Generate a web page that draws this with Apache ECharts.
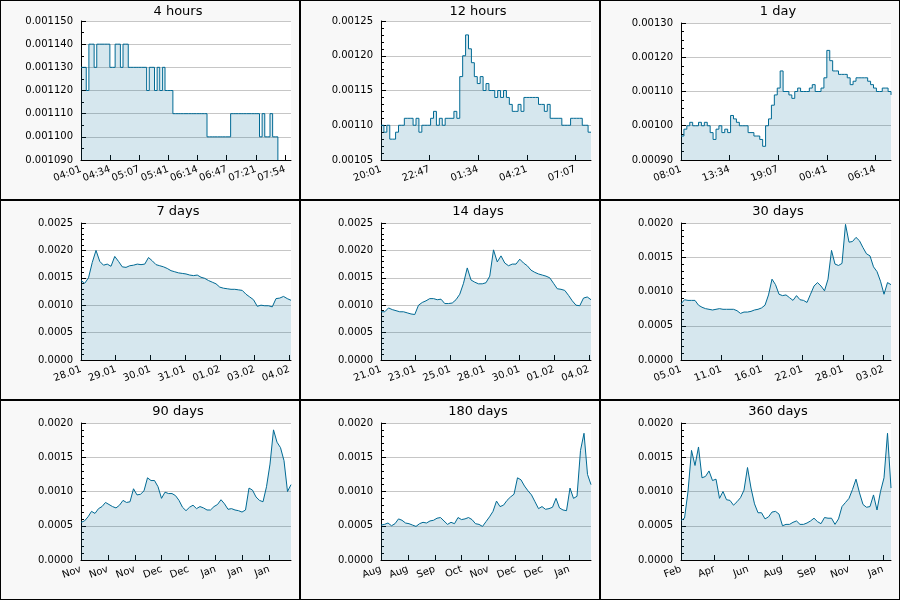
<!DOCTYPE html>
<html>
<head>
<meta charset="utf-8">
<script src="https://cdn.jsdelivr.net/npm/echarts@6/dist/echarts.min.js"></script>
<style>
  body { margin: 0; background: #f8f8f8; }
  #wrap { position: relative; width: 900px; height: 600px; }
  .panel { position: absolute; width: 300px; height: 200px; box-sizing: border-box; border: 1px solid #000; background: #f8f8f8; }
</style>
</head>
<body>
<div id="wrap"></div>
<script>
// values, evenly spaced samples per panel
var hours4 = [0.00113,0.00113,0.00112,0.00114,0.00114,0.00113,0.00114,0.00114,0.00114,0.00114,
  0.00114,0.00113,0.00113,0.00114,0.00114,0.00113,0.00114,0.00114,0.00113,0.00113,
  0.00113,0.00113,0.00113,0.00113,0.00113,0.00112,0.00113,0.00113,0.00112,0.00113,
  0.00112,0.00113,0.00112,0.00112,0.00112,0.00111,0.00111,0.00111,0.00111,0.00111,
  0.00111,0.00111,0.00111,0.00111,0.00111,0.00111,0.00111,0.00111,0.00110,0.00110,
  0.00110,0.00110,0.00110,0.00110,0.00110,0.00110,0.00110,0.00111,0.00111,0.00111,
  0.00111,0.00111,0.00111,0.00111,0.00111,0.00111,0.00111,0.00111,0.00110,0.00111,
  0.00110,0.00110,0.00111,0.00110,0.00110,0.00109];
var hours12 = [0.00110,0.00109,0.00110,0.00108,0.00108,0.00109,0.00110,0.00110,0.00111,0.00111,
  0.00111,0.00110,0.00111,0.00109,0.00110,0.00110,0.00110,0.00111,0.00112,0.00110,
  0.00111,0.00110,0.00111,0.00111,0.00111,0.00112,0.00111,0.00117,0.00120,0.00123,
  0.00121,0.00119,0.00117,0.00116,0.00117,0.00115,0.00116,0.00115,0.00115,0.00114,
  0.00115,0.00114,0.00115,0.00114,0.00113,0.00112,0.00112,0.00113,0.00112,0.00114,
  0.00114,0.00114,0.00114,0.00114,0.00113,0.00113,0.00112,0.00113,0.00111,0.00111,
  0.00111,0.00111,0.00110,0.00110,0.00110,0.00111,0.00111,0.00111,0.00111,0.00110,
  0.00110,0.00109,0.00109];
var day1 = [0.00097,0.00099,0.00100,0.00101,0.00100,0.00100,0.00101,0.00100,0.00101,0.00100,
  0.00098,0.00096,0.00099,0.00100,0.00098,0.00099,0.00098,0.00103,0.00102,0.00101,
  0.00100,0.00100,0.00100,0.00098,0.00098,0.00097,0.00097,0.00096,0.00094,0.00100,
  0.00102,0.00106,0.00109,0.00111,0.00116,0.00110,0.00110,0.00109,0.00108,0.00110,
  0.00111,0.00110,0.00110,0.00110,0.00111,0.00112,0.00110,0.00110,0.00111,0.00114,
  0.00122,0.00119,0.00116,0.00116,0.00115,0.00115,0.00115,0.00114,0.00112,0.00113,
  0.00114,0.00114,0.00114,0.00114,0.00113,0.00112,0.00111,0.00110,0.00110,0.00111,
  0.00111,0.00110,0.00109];
var days7 = [0.00145,0.00140,0.00150,0.00178,0.00200,0.00180,0.00173,0.00175,0.00171,0.00189,
  0.00180,0.00170,0.00169,0.00172,0.00173,0.00175,0.00174,0.00175,0.00187,0.00181,
  0.00174,0.00172,0.00170,0.00167,0.00163,0.00161,0.00159,0.00158,0.00157,0.00155,
  0.00154,0.00155,0.00151,0.00149,0.00145,0.00142,0.00139,0.00133,0.00131,0.00130,
  0.00129,0.00129,0.00128,0.00127,0.00120,0.00115,0.00110,0.00098,0.00100,0.00099,
  0.00099,0.00097,0.00112,0.00113,0.00116,0.00112,0.00109];
var days14 = [0.00088,0.00088,0.00095,0.00092,0.00090,0.00088,0.00088,0.00086,0.00084,0.00083,
  0.00100,0.00105,0.00108,0.00112,0.00112,0.00110,0.00111,0.00103,0.00103,0.00104,
  0.00110,0.00120,0.00140,0.00168,0.00146,0.00142,0.00139,0.00139,0.00141,0.00153,
  0.00201,0.00179,0.00190,0.00177,0.00172,0.00175,0.00175,0.00184,0.00177,0.00172,
  0.00164,0.00160,0.00157,0.00155,0.00153,0.00150,0.00140,0.00130,0.00129,0.00127,
  0.00118,0.00108,0.00100,0.00099,0.00113,0.00115,0.00110];
var days30 = [0.00082,0.00088,0.00087,0.00087,0.00087,0.00080,0.00077,0.00075,0.00074,0.00073,
  0.00074,0.00075,0.00074,0.00074,0.00074,0.00074,0.00072,0.00068,0.00070,0.00070,
  0.00071,0.00073,0.00074,0.00076,0.00080,0.00095,0.00118,0.00110,0.00096,0.00094,
  0.00095,0.00091,0.00087,0.00094,0.00088,0.00087,0.00084,0.00096,0.00108,0.00113,
  0.00108,0.00101,0.00118,0.00160,0.00140,0.00138,0.00141,0.00198,0.00172,0.00173,
  0.00179,0.00174,0.00164,0.00155,0.00152,0.00136,0.00129,0.00115,0.00096,0.00113,
  0.00110];
var days90 = [0.00055,0.00057,0.00063,0.00071,0.00068,0.00075,0.00078,0.00084,0.00081,0.00078,
  0.00076,0.00080,0.00087,0.00084,0.00085,0.00104,0.00095,0.00096,0.00101,0.00120,
  0.00116,0.00116,0.00107,0.00090,0.00099,0.00097,0.00097,0.00094,0.00087,0.00077,
  0.00072,0.00077,0.00080,0.00075,0.00078,0.00076,0.00073,0.00073,0.00078,0.00081,
  0.00088,0.00082,0.00074,0.00075,0.00073,0.00072,0.00070,0.00073,0.00105,0.00102,
  0.00092,0.00087,0.00085,0.00107,0.00140,0.00190,0.00172,0.00164,0.00145,0.00100,
  0.00110];
var days180 = [0.00051,0.00052,0.00054,0.00050,0.00053,0.00060,0.00058,0.00054,0.00053,0.00051,
  0.00049,0.00053,0.00055,0.00054,0.00057,0.00058,0.00061,0.00062,0.00057,0.00052,
  0.00055,0.00053,0.00062,0.00059,0.00060,0.00062,0.00059,0.00053,0.00052,0.00049,
  0.00056,0.00063,0.00071,0.00086,0.00078,0.00080,0.00087,0.00092,0.00096,0.00120,
  0.00117,0.00108,0.00101,0.00095,0.00085,0.00075,0.00078,0.00074,0.00075,0.00077,
  0.00090,0.00076,0.00073,0.00072,0.00105,0.00090,0.00093,0.00160,0.00185,0.00125,
  0.00110];
var days360 = [0.00058,0.00061,0.00100,0.00160,0.00138,0.00165,0.00120,0.00122,0.00130,0.00116,
  0.00118,0.00090,0.00100,0.00088,0.00087,0.00080,0.00085,0.00091,0.00102,0.00135,
  0.00105,0.00082,0.00069,0.00069,0.00060,0.00063,0.00070,0.00071,0.00067,0.00050,
  0.00052,0.00052,0.00055,0.00057,0.00052,0.00052,0.00054,0.00057,0.00061,0.00056,
  0.00053,0.00062,0.00061,0.00061,0.00052,0.00060,0.00078,0.00084,0.00090,0.00103,
  0.00118,0.00098,0.00081,0.00077,0.00078,0.00095,0.00073,0.00100,0.00120,0.00185,
  0.00105];

// tick labels
var hours4Ticks = ['04:01','04:34','05:07','05:41','06:14','06:47','07:21','07:54'];
var hours12Ticks = ['20:01','22:47','01:34','04:21','07:07'];
var day1Ticks = ['08:01','13:34','19:07','00:41','06:14'];
var days7Ticks = ['28.01','29.01','30.01','31.01','01.02','03.02','04.02'];
var days14Ticks = ['21.01','23.01','25.01','28.01','30.01','01.02','04.02'];
var days30Ticks = ['05.01','11.01','16.01','22.01','28.01','03.02'];
var days90Ticks = ['Nov','Nov','Nov','Dec','Dec','Jan','Jan','Jan'];
var days180Ticks = ['Aug','Aug','Sep','Oct','Nov','Dec','Dec','Jan'];
var days360Ticks = ['Feb','Apr','Jun','Aug','Sep','Nov','Jan'];

// dt = sample spacing, span = x range, tick = tick spacing (minutes / hours / days)
var panels = [
  {title:'4 hours',  values:hours4,  dt:3,   span:240,  tick:33.31, ticks:hours4Ticks,  yMin:0.00109, yMax:0.00115, yStep:0.00001, digits:6, minor:2, top:20, step:'end'},
  {title:'12 hours', values:hours12, dt:10,  span:720,  tick:166.6, ticks:hours12Ticks, yMin:0.00105, yMax:0.00125, yStep:0.00005, digits:5, minor:5, top:20, step:'end'},
  {title:'1 day',    values:day1,    dt:20,  span:1440, tick:333.2, ticks:day1Ticks,    yMin:0.0009,  yMax:0.0013,  yStep:0.0001,  digits:5, minor:4, top:22, step:'end'},
  {title:'7 days',   values:days7,   dt:3,   span:168,  tick:27.78, ticks:days7Ticks,   yMin:0, yMax:0.0025, yStep:0.0005, digits:4, minor:5, top:22, step:false},
  {title:'14 days',  values:days14,  dt:6,   span:336,  tick:55.4,  ticks:days14Ticks,  yMin:0, yMax:0.0025, yStep:0.0005, digits:4, minor:5, top:22, step:false},
  {title:'30 days',  values:days30,  dt:0.5, span:30,   tick:5.78,  ticks:days30Ticks,  yMin:0, yMax:0.002,  yStep:0.0005, digits:4, minor:5, top:22, step:false},
  {title:'90 days',  values:days90,  dt:1.5, span:90,   tick:11.53, ticks:days90Ticks,  yMin:0, yMax:0.002,  yStep:0.0005, digits:4, minor:5, top:22, step:false},
  {title:'180 days', values:days180, dt:3,   span:180,  tick:23.07, ticks:days180Ticks, yMin:0, yMax:0.002,  yStep:0.0005, digits:4, minor:5, top:22, step:false},
  {title:'360 days', values:days360, dt:6,   span:360,  tick:57.7,  ticks:days360Ticks, yMin:0, yMax:0.002,  yStep:0.0005, digits:4, minor:5, top:22, step:false}
];

var lineColor = '#006a94';

function setOption(chart, p) {
  var data = p.values.map(function (v, i) { return [i * p.dt, v]; });
  var tickPos = p.ticks.map(function (t, i) { return i * p.tick; });
  chart.setOption({
    animation: false,
    textStyle: { fontFamily: 'DejaVu Sans' },
    title: {
      text: p.title, left: 177, top: 4, padding: 0, textAlign: 'center',
      textStyle: { fontSize: 13, fontWeight: 'normal', color: '#000', fontFamily: 'DejaVu Sans' }
    },
    grid: { left: 80, right: 8, top: p.top, bottom: 39, show: true, backgroundColor: '#fff', borderWidth: 0 },
    xAxis: {
      type: 'value', min: 0, max: p.span,
      splitLine: { show: false },
      axisLine: { lineStyle: { color: '#000', width: 1 } },
      axisTick: { inside: true, length: 5, customValues: tickPos, lineStyle: { color: '#000' } },
      axisLabel: {
        customValues: tickPos, rotate: 20, fontSize: 10, color: '#000', margin: 9,
        formatter: function (v) { return p.ticks[Math.round(v / p.tick)]; }
      }
    },
    yAxis: {
      type: 'value', min: p.yMin, max: p.yMax, interval: p.yStep,
      axisLine: { show: true, lineStyle: { color: '#000' } },
      axisTick: { show: true, inside: true, length: 5, lineStyle: { color: '#000' } },
      minorTick: { show: true, splitNumber: p.minor, length: 3, lineStyle: { color: '#000' } },
      splitLine: { lineStyle: { color: '#c6c6c6' } },
      axisLabel: {
        fontSize: 10, color: '#000', margin: 8,
        formatter: function (v) { return v.toFixed(p.digits); }
      }
    },
    series: [{
      type: 'line', data: data, step: p.step, symbol: 'none',
      lineStyle: { color: lineColor, width: 1 },
      areaStyle: { color: lineColor, opacity: 0.16 }
    }]
  });
}

var wrap = document.getElementById('wrap');
panels.forEach(function (p, k) {
  var div = document.createElement('div');
  div.className = 'panel';
  div.style.left = (k % 3) * 300 + 'px';
  div.style.top = Math.floor(k / 3) * 200 + 'px';
  wrap.appendChild(div);
  var chart = echarts.init(div, null, { renderer: 'canvas' });
  setOption(chart, p);
});
</script>
</body>
</html>
